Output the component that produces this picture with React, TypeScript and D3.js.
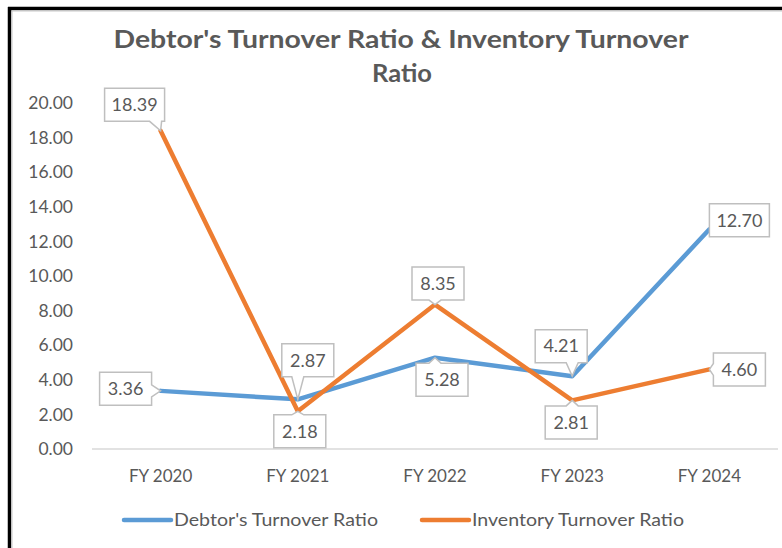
import React from "react";
import * as d3 from "d3";

const WIDTH = 782;
const HEIGHT = 548;
const margin = { top: 103, right: 4, bottom: 99, left: 92 };

const categories = ["FY 2020", "FY 2021", "FY 2022", "FY 2023", "FY 2024"];
const debtorTurnover = [3.36, 2.87, 5.28, 4.21, 12.7];
const inventoryTurnover = [18.39, 2.18, 8.35, 2.81, 4.6];
const yTicks = [0, 2, 4, 6, 8, 10, 12, 14, 16, 18, 20];

// where each callout box sits, relative to its point
const debtorLabelOffsets = [[-35, -2], [10, -39], [7, 22], [-11, -30], [30, -9]];
const inventoryLabelOffsets = [[-26, -26], [2, 20], [3, -21], [-1, 22], [30, 0]];

const FONT = "Lato, 'Open Sans', sans-serif";
const TEXT = "#595959";
const BLUE = "#5B9BD5";
const ORANGE = "#ED7D31";

function calloutPath(cx, cy, w, h, px, py) {
  const x0 = cx - w / 2, x1 = cx + w / 2, y0 = cy - h / 2, y1 = cy + h / 2;
  const hw = 6;
  const dx = (px - cx) / (w / 2);
  const dy = (py - cy) / (h / 2);
  const clamp = (v, a, b) => Math.max(a, Math.min(b, v));
  if (Math.abs(dx) <= 1 && Math.abs(dy) <= 1) {
    return `M${x0},${y0}H${x1}V${y1}H${x0}Z`;
  }
  if (Math.abs(dx) > Math.abs(dy)) {
    const b = clamp(py, y0 + hw + 3, y1 - hw - 3);
    if (dx > 0) {
      return `M${x0},${y0}H${x1}V${b - hw}L${px},${py}L${x1},${b + hw}V${y1}H${x0}Z`;
    }
    return `M${x0},${y0}H${x1}V${y1}H${x0}V${b + hw}L${px},${py}L${x0},${b - hw}Z`;
  }
  const b = clamp(px, x0 + hw + 3, x1 - hw - 3);
  if (dy > 0) {
    return `M${x0},${y0}H${x1}V${y1}H${b + hw}L${px},${py}L${b - hw},${y1}H${x0}Z`;
  }
  return `M${x0},${y0}H${b - hw}L${px},${py}L${b + hw},${y0}H${x1}V${y1}H${x0}Z`;
}

function Labels({ values, offsets, xScale, yScale, cats }) {
  return (
    <g>
      {values.map((v, i) => {
        const px = xScale(cats[i]) + xScale.bandwidth() / 2;
        const py = yScale(v);
        const [ox, oy] = offsets[i];
        const cx = px + ox;
        const cy = py + oy;
        const txt = v.toFixed(2);
        const w = txt.length > 4 ? 60 : 52;
        const h = 33;
        return (
          <g key={i}>
            <path
              d={calloutPath(cx, cy, w, h, px, py)}
              fill="#fff"
              stroke="#bfbfbf"
              strokeWidth={1.5}
            />
            <text
              x={cx}
              y={cy}
              dy="0.35em"
              textAnchor="middle"
              fontFamily={FONT}
              fontSize={18}
              fill={TEXT}
            >
              {txt}
            </text>
          </g>
        );
      })}
    </g>
  );
}

export default function App() {
  const xScale = d3
    .scaleBand()
    .domain(categories)
    .range([margin.left, WIDTH - margin.right]);
  const yScale = d3
    .scaleLinear()
    .domain([0, 20])
    .range([HEIGHT - margin.bottom, margin.top]);

  const line = d3
    .line<number>()
    .x((d, i) => xScale(categories[i]) + xScale.bandwidth() / 2)
    .y((d) => yScale(d));

  return (
    <svg
      width={WIDTH}
      height={HEIGHT}
      style={{ position: "absolute", left: 0, top: 0, background: "#fff" }}
    >
      <rect x={0} y={0} width={WIDTH} height={HEIGHT} fill="#fff" />

      {/* frame */}
      <line x1={8} x2={WIDTH} y1={8.5} y2={8.5} stroke="#000" strokeWidth={3.5} />
      <line x1={11} x2={WIDTH} y1={11} y2={11} stroke="#c8c8c8" strokeWidth={1} />
      <line x1={9.5} x2={9.5} y1={7} y2={HEIGHT} stroke="#000" strokeWidth={3.5} />
      <line x1={12} x2={12} y1={11} y2={HEIGHT} stroke="#c8c8c8" strokeWidth={1} />

      {/* title */}
      <g fontFamily={FONT} fontWeight="bold" fontSize={25} fill={TEXT} textAnchor="middle">
        <text x={401} y={48} textLength={575} lengthAdjust="spacingAndGlyphs">
          Debtor's Turnover Ratio &amp; Inventory Turnover
        </text>
        <text x={402} y={82} textLength={60} lengthAdjust="spacingAndGlyphs">
          Ratio
        </text>
      </g>

      {/* y axis labels */}
      <g fontFamily={FONT} fontSize={17.5} fill={TEXT} textAnchor="end">
        {yTicks.map((t) => (
          <text key={t} x={73} y={yScale(t)} dy="0.35em">
            {t.toFixed(2)}
          </text>
        ))}
      </g>

      {/* x axis */}
      <line
        x1={margin.left}
        x2={WIDTH - margin.right}
        y1={yScale(0)}
        y2={yScale(0)}
        stroke="#d9d9d9"
        strokeWidth={1.5}
      />
      <g fontFamily={FONT} fontSize={17} fill={TEXT} textAnchor="middle">
        {categories.map((c) => (
          <text key={c} x={xScale(c) + xScale.bandwidth() / 2} y={482}>
            {c}
          </text>
        ))}
      </g>

      {/* series */}
      <path
        d={line(debtorTurnover)}
        fill="none"
        stroke={BLUE}
        strokeWidth={4.5}
        strokeLinejoin="round"
        strokeLinecap="round"
      />
      <path
        d={line(inventoryTurnover)}
        fill="none"
        stroke={ORANGE}
        strokeWidth={4.5}
        strokeLinejoin="round"
        strokeLinecap="round"
      />

      <Labels values={debtorTurnover} offsets={debtorLabelOffsets} xScale={xScale} yScale={yScale} cats={categories} />
      <Labels values={inventoryTurnover} offsets={inventoryLabelOffsets} xScale={xScale} yScale={yScale} cats={categories} />

      {/* legend */}
      <g fontFamily={FONT} fontSize={17.5} fill={TEXT}>
        <line x1={124} x2={171} y1={520} y2={520} stroke={BLUE} strokeWidth={4.5} strokeLinecap="round" />
        <text x={174} y={520} dy="0.35em" textLength={204} lengthAdjust="spacingAndGlyphs">
          Debtor's Turnover Ratio
        </text>
        <line x1={422} x2={469} y1={520} y2={520} stroke={ORANGE} strokeWidth={4.5} strokeLinecap="round" />
        <text x={472} y={520} dy="0.35em" textLength={212} lengthAdjust="spacingAndGlyphs">
          Inventory Turnover Ratio
        </text>
      </g>
    </svg>
  );
}
